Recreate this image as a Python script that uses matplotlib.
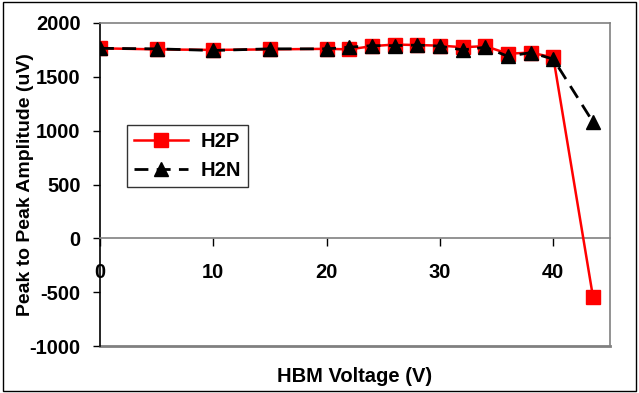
import matplotlib.pyplot as plt
from matplotlib.patches import Rectangle

# HBM stress voltage sweep
voltage = [0, 5, 10, 15, 20, 22, 24, 26, 28, 30, 32, 34, 36, 38, 40, 43.5]
h2p = [1765, 1755, 1750, 1755, 1760, 1755, 1785, 1800, 1795, 1790, 1775, 1785, 1715, 1725, 1680, -545]
h2n = [1765, 1760, 1745, 1760, 1760, 1775, 1790, 1790, 1795, 1785, 1750, 1775, 1690, 1725, 1665, 1080]

plt.rcParams['font.family'] = ['Liberation Sans', 'DejaVu Sans']
plt.rcParams['font.weight'] = 'bold'
plt.rcParams['axes.unicode_minus'] = False

fig = plt.figure(figsize=(6.39, 3.93), dpi=100)
ax = fig.add_axes([100 / 639, 1 - 346 / 393, 510 / 639, 323 / 393])

ax.plot(voltage, h2p, color='#ff0000', lw=1.8, marker='s', ms=9.5,
        mfc='#ff0000', mec='#ff0000', label='H2P', zorder=3)
ax.plot(voltage, h2n, color='black', lw=2, ls=(0, (5, 3)), marker='^', ms=9.5,
        mfc='black', mec='black', label='H2N', zorder=4)

ax.set_xlim(0, 45)
ax.set_ylim(-1000, 2000)
ax.set_xticks([0, 10, 20, 30, 40])
ax.set_yticks(range(-1000, 2001, 500))

# x axis runs through zero, box drawn in grey
ax.spines['bottom'].set_position(('data', 0))
ax.spines['bottom'].set_color('#808080')
ax.spines['bottom'].set_linewidth(1.2)
ax.spines['left'].set_color('black')
ax.spines['left'].set_linewidth(1.2)
for s in ('top', 'right'):
    ax.spines[s].set_color('#808080')
    ax.spines[s].set_linewidth(1.2)
ax.axhline(-1000, color='#808080', lw=2, clip_on=False)

ax.tick_params(axis='x', direction='out', length=6, width=1, color='black',
               labelsize=14.5, pad=12)
ax.tick_params(axis='y', direction='out', length=5, width=1, color='black',
               labelsize=14.5, pad=9)

ax.set_xlabel('HBM Voltage (V)', fontsize=14.5, fontweight='bold', labelpad=0)
ax.xaxis.set_label_coords(0.5, -0.065)
ax.set_ylabel('Peak to Peak Amplitude (uV)', fontsize=14, fontweight='bold')
ax.yaxis.set_label_coords(-0.13, 0.5)

leg = ax.legend(loc='upper left', bbox_to_anchor=(27 / 510, 1 - 102 / 323),
                fontsize=14.5, frameon=True, fancybox=False, handlelength=2.7,
                borderpad=0.35, labelspacing=0.5, handletextpad=0.6,
                borderaxespad=0)
leg.get_frame().set_edgecolor('black')
leg.get_frame().set_linewidth(1)

# outer border of the figure
fig.patches.append(Rectangle((0.004, 0.004), 0.992, 0.992, transform=fig.transFigure,
                             fill=False, edgecolor='black', lw=1))

fig.savefig('out.png', dpi=100)
